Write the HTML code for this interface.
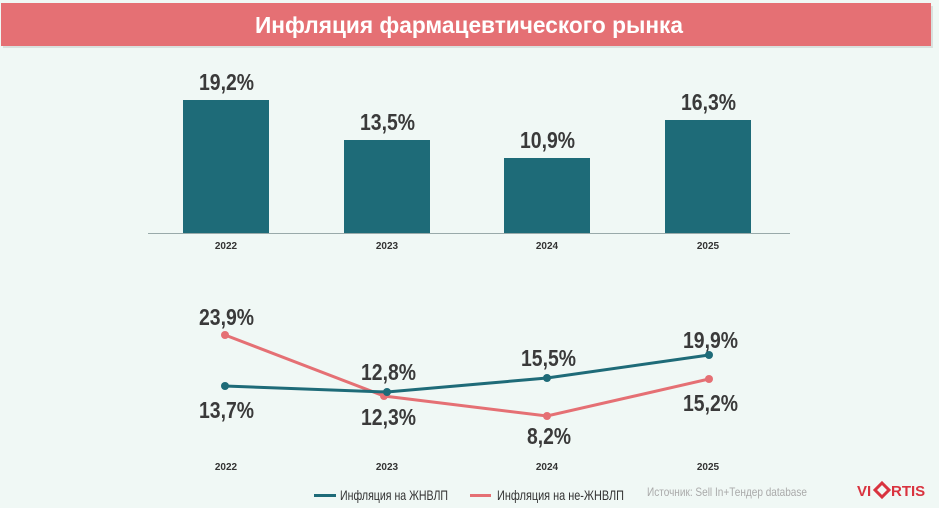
<!DOCTYPE html>
<html><head><meta charset="utf-8"><style>
body{margin:0;background:#f0f8f5;}
svg{display:block;font-family:"Liberation Sans",sans-serif;}
</style></head><body>
<svg width="939" height="508" viewBox="0 0 939 508">
<rect width="939" height="508" fill="#f0f8f5"/>
<rect x="3" y="6" width="930" height="42" fill="#c9d2cf" opacity="0.6"/>
<rect x="1" y="3" width="930" height="43" fill="#e57074"/>
<text x="255" y="33" textLength="428" lengthAdjust="spacingAndGlyphs" fill="#fff" font-size="23" font-weight="bold">Инфляция фармацевтического рынка</text>
<g fill="#1e6b78">
<rect x="183" y="100" width="86" height="133"/>
<rect x="344" y="140" width="86" height="93"/>
<rect x="504" y="158" width="86" height="75"/>
<rect x="665" y="120" width="86" height="113"/>
</g>
<line x1="148" y1="233.5" x2="790" y2="233.5" stroke="#9aa" stroke-width="1"/>
<g fill="#3a3a3a" font-weight="bold" font-size="23">
<text x="199" y="90" textLength="55" lengthAdjust="spacingAndGlyphs">19,2%</text>
<text x="360" y="130" textLength="55" lengthAdjust="spacingAndGlyphs">13,5%</text>
<text x="520" y="148" textLength="55" lengthAdjust="spacingAndGlyphs">10,9%</text>
<text x="681" y="110" textLength="55" lengthAdjust="spacingAndGlyphs">16,3%</text>
</g>
<g fill="#333" font-weight="bold" font-size="10" text-anchor="middle">
<text x="226" y="249">2022</text><text x="387" y="249">2023</text><text x="547" y="249">2024</text><text x="708" y="249">2025</text>
<text x="226" y="470">2022</text><text x="387" y="470">2023</text><text x="547" y="470">2024</text><text x="708" y="470">2025</text>
</g>
<polyline points="225,335 384,396 547,416 709,379" fill="none" stroke="#e57074" stroke-width="3"/>
<g fill="#e57074"><circle cx="225" cy="335" r="4"/><circle cx="384" cy="396" r="4"/><circle cx="547" cy="416" r="4"/><circle cx="709" cy="379" r="4"/></g>
<polyline points="225,386 387,392 547,378 709,355" fill="none" stroke="#1e6b78" stroke-width="3"/>
<g fill="#1e6b78"><circle cx="225" cy="386" r="4"/><circle cx="387" cy="392" r="4"/><circle cx="547" cy="378" r="4"/><circle cx="709" cy="355" r="4"/></g>
<g fill="#3a3a3a" font-weight="bold" font-size="23">
<text x="199" y="325" textLength="55" lengthAdjust="spacingAndGlyphs">23,9%</text>
<text x="199" y="418" textLength="55" lengthAdjust="spacingAndGlyphs">13,7%</text>
<text x="361" y="380" textLength="55" lengthAdjust="spacingAndGlyphs">12,8%</text>
<text x="361" y="425" textLength="55" lengthAdjust="spacingAndGlyphs">12,3%</text>
<text x="521" y="366" textLength="55" lengthAdjust="spacingAndGlyphs">15,5%</text>
<text x="527" y="444" textLength="44" lengthAdjust="spacingAndGlyphs">8,2%</text>
<text x="683" y="348" textLength="55" lengthAdjust="spacingAndGlyphs">19,9%</text>
<text x="683" y="411" textLength="55" lengthAdjust="spacingAndGlyphs">15,2%</text>
</g>
<rect x="314" y="494" width="22" height="3" fill="#1e6b78"/>
<text x="340" y="500" font-size="14" fill="#333" textLength="108" lengthAdjust="spacingAndGlyphs">Инфляция на ЖНВЛП</text>
<rect x="470" y="494" width="21" height="3" fill="#e57074"/>
<text x="497" y="500" font-size="14" fill="#333" textLength="127" lengthAdjust="spacingAndGlyphs">Инфляция на не-ЖНВЛП</text>
<text x="647" y="496" font-size="12" fill="#aaa" textLength="160" lengthAdjust="spacingAndGlyphs">Источник: Sell In+Тендер database</text>
<text x="857" y="496" font-size="15" font-weight="bold" fill="#d9333f">VI</text>
<path d="M882 483 l7 7 l-7 7 l-7 -7z" fill="none" stroke="#d9333f" stroke-width="3"/>
<text x="891" y="496" font-size="15" font-weight="bold" fill="#d9333f">RTIS</text>
</svg>
</body></html>
